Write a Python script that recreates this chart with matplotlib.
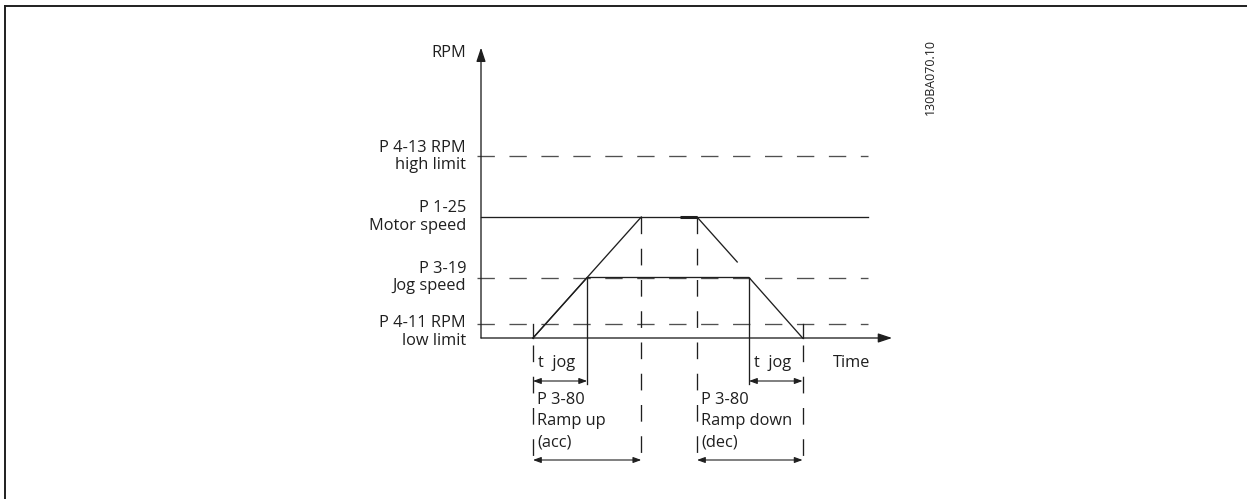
#!/usr/bin/env python3
"""Jog speed / ramp timing diagram (RPM vs time)."""
import matplotlib
matplotlib.use("Agg")
import matplotlib.pyplot as plt
from matplotlib.lines import Line2D

plt.rcParams["font.family"] = ["Open Sans", "DejaVu Sans"]
plt.rcParams["lines.scale_dashes"] = False

# ---------- data (time in s, speed in RPM) ----------
LEVEL_LABELS = ["P 4-13 RPM\nhigh limit", "P 1-25\nMotor speed", "P 3-19\nJog speed", "P 4-11 RPM\nlow limit"]
LEVEL_RPM = [1800, 1200, 600, 140]
T_START, T_JOG_UP, T_ACC, T_DEC, T_JOG_DOWN, T_STOP = 0.97, 1.98, 2.99, 4.03, 5.0, 6.0
MOTOR_UP_T = [T_START, T_ACC]
MOTOR_UP_RPM = [0, 1200]
MOTOR_HOLD_T = [3.71, T_DEC]
MOTOR_DOWN_T = [T_DEC, 4.78]
MOTOR_DOWN_RPM = [1200, 754]
JOG_T = [T_START, T_JOG_UP, T_JOG_DOWN, T_STOP]
JOG_RPM = [0, 600, 600, 0]
T_END = 7.22
T_AXIS = 7.67
RPM_AXIS = 2880

# ---------- layout (pixel grid of the 1247x499 canvas) ----------
W, H = 1247, 499
X0, Y0 = 481, 338
PX_T = 53.6
PX_R = 121 / 1200
INK = "#1f1f1f"
GREY = "#505050"
LW = 0.95
DASH = (12.5, 10.5)
FS = 11.8


def tx(p):
    return (p - X0) / PX_T


def ry(p):
    return (Y0 - p) / PX_R


fig = plt.figure(figsize=(W / 100, H / 100), dpi=100)
ax = fig.add_axes([0, 0, 1, 1])
ax.set_xlim(tx(0), tx(W))
ax.set_ylim(ry(H), ry(0))
ax.axis("off")

# frame (top and left edges only, as in the cropped drawing)
fig.add_artist(Line2D([4.5 / W, 4.5 / W], [0, 1 - 6 / H], color=INK, lw=1.4))
fig.add_artist(Line2D([4.5 / W, 1], [1 - 6 / H, 1 - 6 / H], color=INK, lw=1.4))

# axes with arrows
arr = dict(arrowstyle="-|>,head_length=0.6,head_width=0.2", mutation_scale=14,
           lw=LW, color=INK, shrinkA=0, shrinkB=0)
ax.annotate("", xy=(T_AXIS, 0), xytext=(0, 0), arrowprops=arr)
ax.annotate("", xy=(0, RPM_AXIS), xytext=(0, 0), arrowprops=arr)

# speed levels
x_left = tx(477)
for lab, rpm in zip(LEVEL_LABELS, LEVEL_RPM):
    if rpm == 1200:
        ax.plot([0, T_END], [rpm, rpm], color=INK, lw=LW)
    else:
        ax.plot([x_left, T_END], [rpm, rpm], color=GREY, lw=LW, dashes=DASH)
    yl = rpm if rpm != 140 else rpm - 80
    ax.text(tx(466), yl, lab, ha="right", va="center", fontsize=FS,
            color=INK, linespacing=1.1)
ax.text(tx(466), ry(53), "RPM", ha="right", va="center", fontsize=FS, color=INK)

# motor ramp up / down
ax.plot(MOTOR_UP_T, MOTOR_UP_RPM, color=INK, lw=LW)
ax.plot(MOTOR_HOLD_T, [1200, 1200], color=INK, lw=2.2, solid_capstyle="butt")
ax.plot(MOTOR_DOWN_T, MOTOR_DOWN_RPM, color=INK, lw=LW)

# jog profile
ax.plot(JOG_T, JOG_RPM, color=INK, lw=LW)

# ticks at start/stop on low limit
for t in (T_START, T_STOP):
    ax.plot([t, t], [0, LEVEL_RPM[3]], color=INK, lw=LW)

# solid drop lines for jog
for t in (T_JOG_UP, T_JOG_DOWN):
    ax.plot([t, t], [600, ry(384)], color=INK, lw=LW)

# dashed drop lines for ramps
for t, top in ((T_START, ry(345)), (T_ACC, 1200), (T_DEC, 1200), (T_STOP, ry(345))):
    ax.plot([t, t], [top, ry(467)], color=INK, lw=LW, dashes=(12, 10.5), dash_capstyle="butt")

# dimension arrows
dim = dict(arrowstyle="<|-|>,head_length=0.6,head_width=0.22", mutation_scale=8,
           lw=0.8, color=INK, shrinkA=0, shrinkB=0)
ax.annotate("", xy=(T_START, ry(381)), xytext=(T_JOG_UP, ry(381)), arrowprops=dim)
ax.annotate("", xy=(T_JOG_DOWN, ry(381)), xytext=(T_STOP, ry(381)), arrowprops=dim)
ax.annotate("", xy=(T_START, ry(460)), xytext=(T_ACC, ry(460)), arrowprops=dim)
ax.annotate("", xy=(T_DEC, ry(460)), xytext=(T_STOP, ry(460)), arrowprops=dim)

# annotations below the time axis
ax.text(tx(538), ry(363), "t  jog", ha="left", va="center", fontsize=FS, color=INK)
ax.text(tx(754), ry(363), "t  jog", ha="left", va="center", fontsize=FS, color=INK)
ax.text(tx(833), ry(363), "Time", ha="left", va="center", fontsize=FS, color=INK)
ax.text(tx(537), ry(421), "P 3-80\nRamp up\n(acc)", ha="left", va="center",
        fontsize=FS, color=INK, linespacing=1.45)
ax.text(tx(701), ry(421), "P 3-80\nRamp down\n(dec)", ha="left", va="center",
        fontsize=FS, color=INK, linespacing=1.45)

# drawing number
ax.text(tx(930), ry(77), "130BA070.10", rotation=90, ha="center", va="center",
        fontsize=9, color=INK)

fig.savefig("out.png", dpi=100)
